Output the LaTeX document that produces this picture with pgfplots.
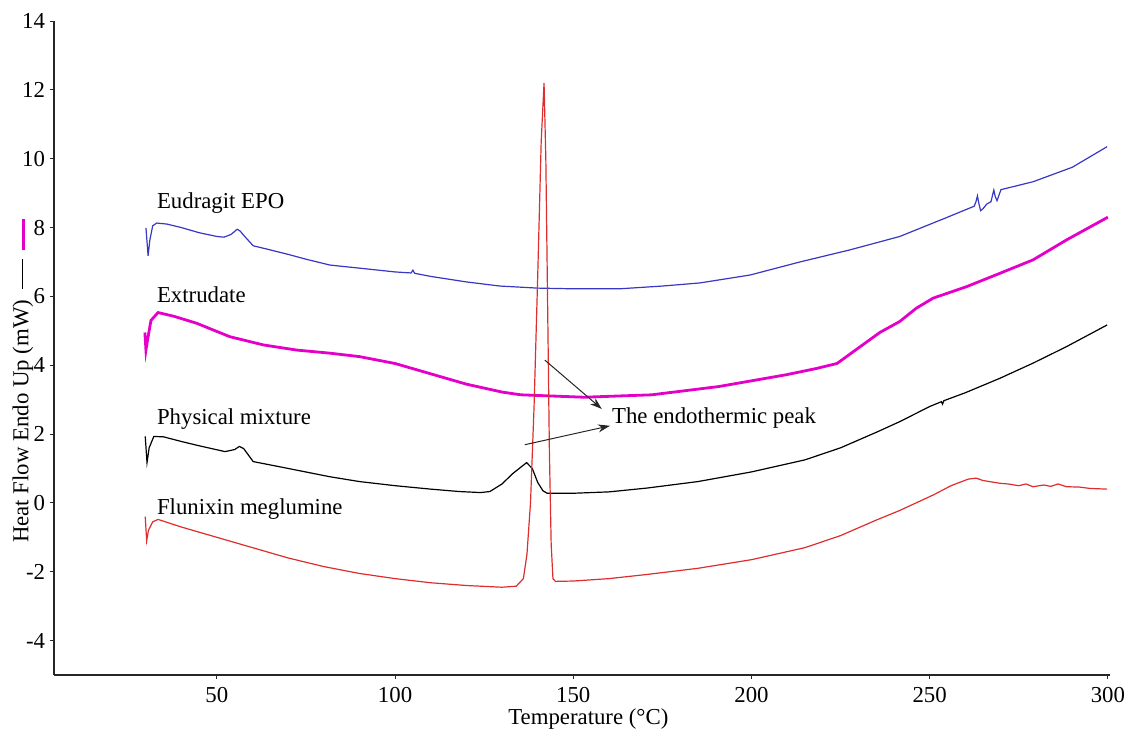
\documentclass[border=0pt]{standalone}
\usepackage{pgfplots}
\pgfplotsset{compat=1.18}
\usepackage{fontspec}
\setmainfont{Liberation Serif}
\usetikzlibrary{arrows.meta}
\definecolor{cblue}{RGB}{55,55,195}
\definecolor{cmag}{RGB}{228,0,200}
\definecolor{cred}{RGB}{222,45,45}
\begin{document}
\fontsize{11.4}{13.7}\selectfont
\begin{tikzpicture}
\useasboundingbox (-27pt,-30pt) rectangle (536pt,337.5pt);
\begin{axis}[
  at={(0,0)}, anchor=south west, scale only axis,
  width=528pt, height=327pt,
  xmin=4.3, xmax=300.6, ymin=-5, ymax=14,
  axis lines=left, axis line style={-, black!85, line width=0.6pt},
  xtick={50,100,...,300}, ytick={-4,-2,...,14},
  tick align=outside, major tick length=2pt,
  tick style={black!85, line width=0.5pt},
  /pgf/number format/assume math mode=true,
  ticklabel style={font=\fontsize{11.4}{13.7}\selectfont},
  yticklabel style={xshift=1.5pt},
  xlabel={Temperature (°C)},
  xlabel style={at={(axis description cs:0.506,0)}, anchor=center, yshift=-22pt},
  ylabel={Heat Flow Endo Up (mW)\hspace{5.5pt}\raisebox{0.22em}{\rule{15pt}{0.5pt}}\hspace{4.5pt}\raisebox{0.15em}{\textcolor{cmag}{\rule{15.5pt}{1.5pt}}}},
  ylabel style={at={(axis description cs:-0.0294,0.450)}, anchor=center},
  clip=false,
]
% Eudragit EPO
\addplot[cblue, line width=0.6pt] coordinates {
(30.1,7.99) (30.7,7.18) (31.2,7.64) (32.0,8.05) (33.1,8.13) (36,8.1) (40,8.0)
(45,7.85) (50,7.74) (52,7.72) (54,7.8) (55.7,7.95) (56.5,7.9) (57.9,7.73)
(60.2,7.47) (65,7.35) (70,7.22) (75,7.08) (81.7,6.91) (90,6.82) (100,6.71)
(104.5,6.68) (105,6.76) (105.5,6.67) (110,6.58) (115,6.5) (120,6.42)
(129.4,6.3) (140,6.24) (150,6.22) (163,6.22) (175,6.3) (185.5,6.39)
(199.6,6.62) (213.6,7.0) (227.6,7.35) (241.6,7.74) (255,8.3) (262.5,8.62)
(263,8.75) (263.4,8.92) (263.8,8.7) (264.3,8.49) (265,8.55) (266,8.68)
(267.2,8.75) (268,9.09) (268.4,8.9) (268.9,8.78) (270,9.1) (279,9.33)
(290,9.75) (299.8,10.35)
};
% Extrudate
\addplot[cmag, line width=1.4pt] coordinates {
(29.8,4.95) (30.1,4.44) (30.5,4.7) (31.5,5.3) (33.5,5.53) (38,5.42)
(44.3,5.22) (53.6,4.83) (63,4.59) (72.4,4.44) (81.7,4.35) (90,4.25)
(100,4.05) (110,3.75) (120,3.45) (130,3.22) (135.3,3.14) (153,3.07)
(172,3.14) (190.8,3.38) (209.6,3.72) (218,3.9) (224,4.05) (230,4.5)
(236,4.95) (241.6,5.27) (246.3,5.66) (251,5.95) (260.3,6.28) (269.7,6.67)
(279,7.06) (288.4,7.64) (300,8.30)
};
% Physical mixture
\addplot[black, line width=0.6pt] coordinates {
(29.9,1.93) (30.4,1.17) (31,1.6) (32.3,1.93) (35,1.92) (40.2,1.78) (45,1.66)
(52.3,1.49) (55,1.55) (56.3,1.64) (57.5,1.58) (60.2,1.2) (67.6,1.05)
(81.7,0.76) (90,0.62) (100,0.5) (110,0.4) (118,0.33) (124,0.3) (126.6,0.33)
(130,0.55) (133,0.85) (136.9,1.17) (138.5,1.0) (140,0.6) (141.5,0.35)
(142.7,0.28) (150,0.28) (160,0.32) (170.6,0.43) (185,0.62) (200,0.9)
(215,1.25) (225,1.6) (235,2.05) (241.6,2.36) (250,2.8) (253.3,2.94)
(253.6,2.87) (254,2.97) (260,3.2) (269.7,3.62) (279,4.06) (288.4,4.54)
(299.8,5.17)
};
% Flunixin meglumine
\addplot[cred, line width=0.6pt] coordinates {
(29.9,-0.4) (30.3,-1.1) (30.8,-0.8) (32,-0.55) (33.5,-0.48) (40,-0.7)
(50,-1.0) (60,-1.3) (70,-1.6) (80,-1.85) (90,-2.05) (100,-2.2) (110,-2.32)
(120,-2.4) (130,-2.45) (134,-2.42) (136,-2.2) (137,-1.5) (138,0) (139,2.8)
(140,6.5) (141,10.5) (141.8,12.2) (142.3,10) (142.8,5.8) (143.3,1.5)
(143.8,-1.2) (144.3,-2.2) (145,-2.28) (150,-2.27) (160,-2.2) (170.6,-2.08)
(185,-1.9) (200,-1.65) (215,-1.3) (225,-0.95) (235,-0.5) (241.6,-0.22)
(251,0.23) (256,0.5) (260.8,0.69) (263,0.72) (265,0.65) (269.7,0.57)
(272,0.55) (275,0.5) (277,0.55) (279,0.47) (282,0.52) (284,0.48) (286,0.55)
(288.4,0.47) (292,0.46) (295,0.42) (299.8,0.40)
};
\node[anchor=base west, inner sep=0pt] at (axis cs:33.1,8.56) {Eudragit EPO};
\node[anchor=base west, inner sep=0pt] at (axis cs:33.1,5.82) {Extrudate};
\node[anchor=base west, inner sep=0pt] at (axis cs:33.1,2.27) {Physical mixture};
\node[anchor=base west, inner sep=0pt] at (axis cs:33.1,-0.35) {Flunixin meglumine};
\node[anchor=base west, inner sep=0pt] at (axis cs:160.8,2.32) {The endothermic peak};
\draw[-{Stealth[length=6pt,width=4pt]}, line width=0.5pt, black!85] (axis cs:142.0,4.15) -- (axis cs:158.0,2.73);
\draw[-{Stealth[length=6pt,width=4pt]}, line width=0.5pt, black!85] (axis cs:136.4,1.69) -- (axis cs:160.3,2.24);
\end{axis}
\end{tikzpicture}
\end{document}
